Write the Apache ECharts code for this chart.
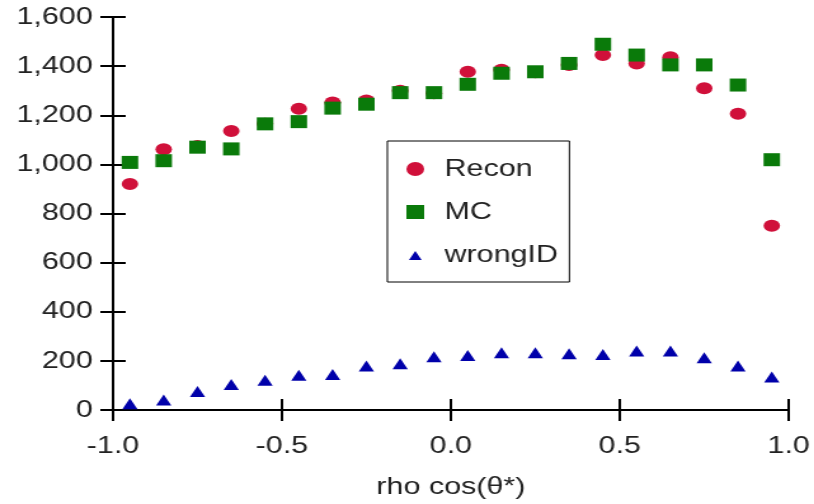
<!DOCTYPE html>
<html>
<head>
<meta charset="utf-8">
<script src="https://cdn.jsdelivr.net/npm/echarts@6/dist/echarts.min.js"></script>
<style>
html,body{margin:0;padding:0;background:#fff;overflow:hidden;width:814px;height:504px;}
#chart{width:641px;height:504px;transform:scaleX(1.27);transform-origin:0 0;}
</style>
</head>
<body>
<div id="chart"></div>
<script>
const xValues = [-0.95,-0.85,-0.75,-0.65,-0.55,-0.45,-0.35,-0.25,-0.15,-0.05,0.05,0.15,0.25,0.35,0.45,0.55,0.65,0.75,0.85,0.95];
const recon = [920,1062,1075,1136,1165,1226,1252,1260,1300,1290,1377,1385,1375,1405,1445,1411,1436,1310,1206,750];
const mc = [1008,1015,1070,1063,1165,1174,1229,1245,1292,1292,1326,1371,1377,1411,1489,1445,1405,1405,1323,1019];
const wrongID = [25,41,75,104,121,141,145,179,188,217,222,233,233,229,226,240,240,213,179,134];
const seriesNames = ['Recon','MC','wrongID'];
const xTickLabels = {'-1':'-1.0','-0.5':'-0.5','0':'0.0','0.5':'0.5','1':'1.0'};
const xTitle = 'rho cos(θ*)';

const font = "'Liberation Sans', Arial, sans-serif";
const zip = (ys) => xValues.map((x, i) => [x, ys[i]]);
const chart = echarts.init(document.getElementById('chart'), null, {renderer: 'canvas'});
const axisLineStyle = {color: '#000', width: 2};
const legendText = {fontSize: 24, color: '#222', fontFamily: font, padding: [0, 0, 0, 11]};
chart.setOption({
  animation: false,
  backgroundColor: '#fff',
  grid: {left: 89, right: 20, top: 17, bottom: 93, containLabel: false},
  legend: {
    left: 305, top: 141,
    orient: 'vertical',
    data: [
      {name: 'Recon', icon: 'circle'},
      {name: 'MC', icon: 'rect'},
      {name: 'wrongID', icon: 'path://M0,0M14,14M7,3L12,12L2,12Z'}
    ],
    itemWidth: 14, itemHeight: 14, itemGap: 19,
    padding: [16, 9, 15, 15],
    borderColor: '#000', borderWidth: 1,
    textStyle: legendText
  },
  xAxis: [{
    type: 'value', min: -1, max: 1, interval: 0.5,
    position: 'bottom',
    axisLine: {show: true, onZero: false, lineStyle: axisLineStyle},
    axisTick: {show: true, length: 11, lineStyle: {color: '#000', width: 2}},
    axisLabel: {fontSize: 24, color: '#222', fontFamily: font, margin: 24,
      formatter: v => xTickLabels[String(v)] !== undefined ? xTickLabels[String(v)] : v.toFixed(1)},
    splitLine: {show: false},
    name: xTitle, nameLocation: 'middle', nameGap: 65,
    nameTextStyle: {fontSize: 24, color: '#222', fontFamily: font}
  }, {
    type: 'value', min: -1, max: 1, interval: 0.5,
    position: 'bottom',
    axisLine: {show: false, onZero: false},
    axisTick: {show: true, inside: true, length: 11, lineStyle: {color: '#000', width: 2}},
    axisLabel: {show: false},
    splitLine: {show: false}
  }],
  yAxis: [{
    type: 'value', min: 0, max: 1600, interval: 200,
    position: 'left',
    axisLine: {show: true, onZero: false, lineStyle: axisLineStyle},
    axisTick: {show: true, length: 10, lineStyle: {color: '#000', width: 2}},
    axisLabel: {fontSize: 24, color: '#222', fontFamily: font, margin: 16},
    splitLine: {show: false}
  }, {
    type: 'value', min: 0, max: 1600, interval: 200,
    position: 'left',
    axisLine: {show: false, onZero: false},
    axisTick: {show: true, inside: true, length: 10, lineStyle: {color: '#000', width: 2}},
    axisLabel: {show: false},
    splitLine: {show: false}
  }],
  series: [
    {name: seriesNames[0], type: 'scatter', symbol: 'circle', symbolSize: [13, 12],
     itemStyle: {color: '#d0103a', opacity: 1}, data: zip(recon), z: 2},
    {name: seriesNames[1], type: 'scatter', symbol: 'rect', symbolSize: [13, 13],
     itemStyle: {color: '#0a7a0a', opacity: 1}, data: zip(mc), z: 3},
    {name: seriesNames[2], type: 'scatter', symbol: 'triangle', symbolSize: [12, 11],
     itemStyle: {color: '#0000aa', opacity: 1}, data: zip(wrongID), z: 4}
  ]
});
</script>
</body>
</html>
